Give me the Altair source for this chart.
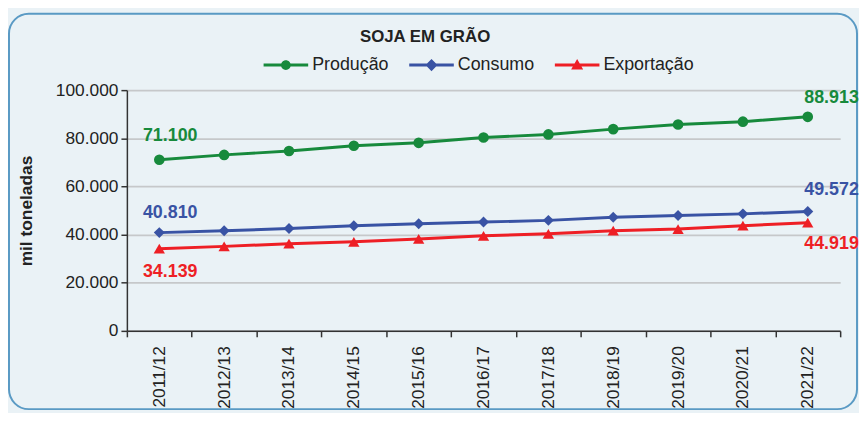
import altair as alt
import pandas as pd

seasons = ["2011/12", "2012/13", "2013/14", "2014/15", "2015/16", "2016/17",
           "2017/18", "2018/19", "2019/20", "2020/21", "2021/22"]
producao = [71100, 73100, 74700, 76900, 78100, 80300, 81600, 83800, 85700, 86900, 88913]
consumo = [40810, 41600, 42500, 43700, 44500, 45200, 45900, 47200, 47900, 48600, 49572]
exportacao = [34139, 35100, 36200, 37000, 38200, 39500, 40300, 41600, 42300, 43700, 44919]

series_names = ["Produção", "Consumo", "Exportação"]
series_colors = ["#178a3c", "#3953a4", "#ee1f25"]
marker_shapes = ["circle", "diamond", "triangle-up"]
marker_sizes = [115, 130, 140]
legend_paths = [
    "M-1,-0.067H1V0.067H-1Z M0.22,0A0.22,0.22,0,1,1,-0.22,0A0.22,0.22,0,1,1,0.22,0Z",
    "M-1,-0.067H1V0.067H-1Z M0,-0.27L0.27,0L0,0.27L-0.27,0Z",
    "M-1,-0.067H1V0.067H-1Z M0,-0.27L0.27,0.2L-0.27,0.2Z",
]
y_ticks = [0, 20000, 40000, 60000, 80000, 100000]
# label offsets (first point, last point) per series: (dx, dy)
label_offsets = {
    "Produção": [(11, -24), (24, -19)],
    "Consumo": [(11, -20), (24, -22)],
    "Exportação": [(11, 24), (24, 22)],
}

FONT = "Liberation Sans"
TXT = "#222222"

rows = []
for name, vals in zip(series_names, [producao, consumo, exportacao]):
    for i, (s, v) in enumerate(zip(seasons, vals)):
        rows.append({"safra": s, "serie": name, "valor": v, "idx": i,
                     "rotulo": f"{v:,}".replace(",", ".")})
df = pd.DataFrame(rows)

base = alt.Chart(df)

x_enc = alt.X(
    "safra:N",
    scale=alt.Scale(type="band", domain=seasons, paddingInner=0, paddingOuter=0),
    axis=alt.Axis(title=None, labelAngle=270, labelFontSize=17.5, labelColor=TXT,
                  labelFont=FONT, tickBand="extent", tickSize=6, tickColor="#333333",
                  tickWidth=1.5, domainColor="#333333", domainWidth=1.5,
                  labelPadding=9, grid=False),
)
y_enc = alt.Y(
    "valor:Q",
    scale=alt.Scale(domain=[0, 100000], nice=False),
    axis=alt.Axis(values=y_ticks, title="mil toneladas", titleFontSize=17.5,
                  titleFontWeight="bold", titleColor=TXT, titleFont=FONT,
                  titlePadding=20,
                  labelExpr="datum.value == 0 ? '0' : format(datum.value/1000, 'd') + '.000'",
                  labelFontSize=17.5, labelColor=TXT, labelFont=FONT, labelPadding=3,
                  tickSize=6, tickColor="#333333", tickWidth=1.5,
                  domainColor="#333333", domainWidth=1.5,
                  grid=True, gridColor="#c6c8ca", gridWidth=1.8),
)
color_scale = alt.Scale(domain=series_names, range=series_colors)

lines = base.mark_line(strokeWidth=3).encode(
    x=x_enc, y=y_enc,
    color=alt.Color("serie:N", scale=color_scale, legend=None),
)
points = base.mark_point(filled=True, opacity=1).encode(
    x=x_enc, y=y_enc,
    color=alt.Color("serie:N", scale=color_scale, legend=None),
    shape=alt.Shape("serie:N", scale=alt.Scale(domain=series_names, range=marker_shapes), legend=None),
    size=alt.Size("serie:N", scale=alt.Scale(domain=series_names, range=marker_sizes), legend=None),
)

leg = dict(title=None, orient="none", direction="horizontal", legendX=138, legendY=-48,
           symbolSize=2025, labelFontSize=18, labelColor=TXT, labelFont=FONT,
           labelOffset=4, columnPadding=20, padding=0, symbolStrokeWidth=0)
legend_layer = base.transform_filter("datum.valor < 0").mark_point(filled=True, opacity=1).encode(
    color=alt.Color("serie:N", scale=alt.Scale(domain=series_names, range=series_colors),
                    legend=alt.Legend(**leg)),
    shape=alt.Shape("serie:N", scale=alt.Scale(domain=series_names, range=legend_paths),
                    legend=alt.Legend(**leg)),
)

label_layers = []
for name, col in zip(series_names, series_colors):
    for pos, (dx, dy) in zip([0, len(seasons) - 1], label_offsets[name]):
        label_layers.append(
            base.transform_filter(
                (alt.datum.serie == name) & (alt.datum.idx == pos)
            ).mark_text(dx=dx, dy=dy, fontSize=18, fontWeight="bold", color=col,
                        font=FONT, baseline="middle", align="center").encode(
                x=x_enc, y=y_enc, text="rotulo:N")
        )

frame = alt.Chart(alt.Data(values=[{"k": 1}])).mark_rect(
    fillOpacity=0, stroke="#5a9ac4", strokeWidth=2, cornerRadius=20
).encode(x=alt.value(-119), x2=alt.value(737), y=alt.value(-77), y2=alt.value(322))

chart = alt.layer(frame, lines, points, legend_layer, *label_layers).resolve_scale(
    color="independent", shape="independent", size="independent"
).properties(
    width=720, height=243,
    autosize=alt.AutoSizeParams(type="none"),
    padding={"left": 120, "top": 81, "right": 19, "bottom": 81},
    title=alt.TitleParams("SOJA EM GRÃO", fontSize=17, fontWeight="bold", color=TXT,
                          font=FONT, anchor="middle", frame="group", dx=-59, offset=0,
                          dy=33),
).configure(background="#eaf2f6", font=FONT).configure_view(stroke="transparent")

chart.save("out.html", embed_options={"renderer": "svg", "actions": False})
